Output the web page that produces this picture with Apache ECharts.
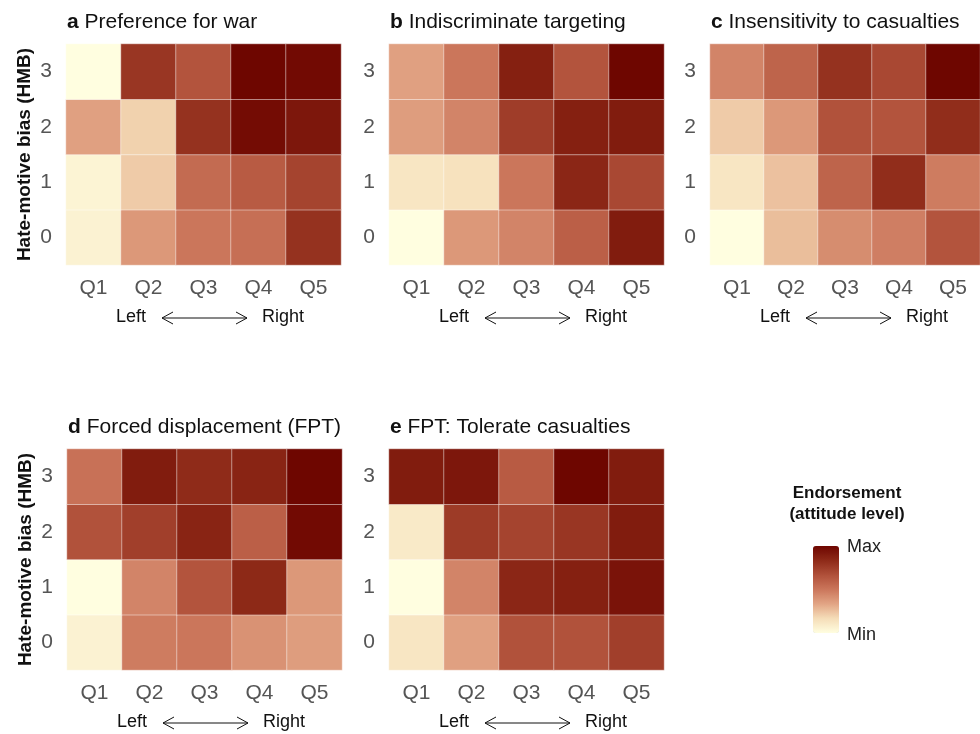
<!DOCTYPE html>
<html lang="en">

<head>
  <meta charset="UTF-8">
  <title>Endorsement heatmaps</title>
  <script src="https://cdn.jsdelivr.net/npm/echarts@6/dist/echarts.min.js"></script>
</head>

<body style="margin:0">
  <div id="main" style="width: 980px;height: 734px;"></div>
</body>
<script>
  var charts = echarts.init(document.getElementById('main'));

  var quintiles = ['Q1', 'Q2', 'Q3', 'Q4', 'Q5'];
  var hmbLevels = ['0', '1', '2', '3'];

  // rows = HMB 0..3, cols = Q1..Q5, scaled 0 (min) .. 1 (max) within each panel
  var prefWar = [
    [0.06, 0.38, 0.50, 0.53, 0.80],
    [0.05, 0.22, 0.55, 0.62, 0.72],
    [0.35, 0.20, 0.80, 0.97, 0.92],
    [0.00, 0.78, 0.65, 1.00, 0.98]
  ];
  var indiscriminate = [
    [0.00, 0.38, 0.45, 0.60, 0.90],
    [0.12, 0.14, 0.50, 0.85, 0.70],
    [0.36, 0.45, 0.75, 0.88, 0.90],
    [0.35, 0.50, 0.88, 0.65, 1.00]
  ];
  var insensitivity = [
    [0.00, 0.26, 0.42, 0.47, 0.65],
    [0.12, 0.25, 0.58, 0.82, 0.48],
    [0.22, 0.38, 0.66, 0.65, 0.82],
    [0.45, 0.58, 0.80, 0.70, 1.00]
  ];
  var forcedDisp = [
    [0.06, 0.48, 0.50, 0.40, 0.36],
    [0.00, 0.45, 0.65, 0.84, 0.38],
    [0.66, 0.74, 0.86, 0.60, 0.98],
    [0.52, 0.90, 0.83, 0.86, 1.00]
  ];
  var tolerateCas = [
    [0.12, 0.35, 0.66, 0.66, 0.74],
    [0.00, 0.45, 0.85, 0.88, 0.94],
    [0.10, 0.76, 0.72, 0.78, 0.90],
    [0.90, 0.92, 0.62, 1.00, 0.90]
  ];

  var panels = [
    { letter: 'a', name: 'Preference for war', data: prefWar, left: 66, top: 44 },
    { letter: 'b', name: 'Indiscriminate targeting', data: indiscriminate, left: 389, top: 44 },
    { letter: 'c', name: 'Insensitivity to casualties', data: insensitivity, left: 710, top: 44 },
    { letter: 'd', name: 'Forced displacement (FPT)', data: forcedDisp, left: 67, top: 449 },
    { letter: 'e', name: 'FPT: Tolerate casualties', data: tolerateCas, left: 389, top: 449 }
  ];
  var W = 275, H = 221;
  var font = 'Liberation Sans, Arial, sans-serif';

  var titles = [], grids = [], xAxes = [], yAxes = [], series = [], graphics = [];
  panels.forEach(function (p, i) {
    titles.push({
      text: '{b|' + p.letter + '} ' + p.name,
      left: p.left - 4,
      top: p.top - 37,
      textStyle: {
        fontFamily: font, fontSize: 21, fontWeight: 'normal', color: '#111',
        rich: { b: { fontFamily: font, fontSize: 21, fontWeight: 'bold', color: '#111' } }
      }
    });
    grids.push({ left: p.left, top: p.top, width: W, height: H });
    xAxes.push({
      type: 'category', gridIndex: i, data: quintiles,
      axisLine: { show: false }, axisTick: { show: false }, splitLine: { show: false },
      axisLabel: { fontFamily: font, fontSize: 21, color: '#555', margin: 13 }
    });
    yAxes.push({
      type: 'category', gridIndex: i, data: hmbLevels,
      axisLine: { show: false }, axisTick: { show: false }, splitLine: { show: false },
      axisLabel: { fontFamily: font, fontSize: 21, color: '#555', margin: 14 },
      name: (i === 0 || i === 3) ? 'Hate-motive bias (HMB)' : '',
      nameLocation: 'middle', nameGap: 32,
      nameTextStyle: { fontFamily: font, fontSize: 19, fontWeight: 'bold', color: '#111' }
    });
    var cells = [];
    p.data.forEach(function (row, y) {
      row.forEach(function (v, x) { cells.push([x, y, v]); });
    });
    series.push({
      type: 'heatmap', xAxisIndex: i, yAxisIndex: i, data: cells,
      itemStyle: { borderColor: 'rgba(255,255,255,0.45)', borderWidth: 1 },
      emphasis: { disabled: true }
    });

    // Left <--> Right annotation under the Q labels
    var ay = p.top + H + 53;
    var x1 = p.left + 96, x2 = p.left + 181;
    graphics.push(
      { type: 'text', left: p.left + 50, top: ay - 10, style: { text: 'Left', font: '18px ' + font, fill: '#111' } },
      { type: 'text', left: p.left + 196, top: ay - 10, style: { text: 'Right', font: '18px ' + font, fill: '#111' } },
      { type: 'line', shape: { x1: x1, y1: ay, x2: x2, y2: ay }, style: { stroke: '#111', lineWidth: 1 } },
      { type: 'polyline', shape: { points: [[x1 + 11, ay - 6], [x1, ay], [x1 + 11, ay + 6]] }, style: { stroke: '#111', lineWidth: 1, fill: null } },
      { type: 'polyline', shape: { points: [[x2 - 11, ay - 6], [x2, ay], [x2 - 11, ay + 6]] }, style: { stroke: '#111', lineWidth: 1, fill: null } }
    );
  });

  graphics.push(
    { type: 'text', x: 847, y: 485, style: { text: 'Endorsement', font: 'bold 17px ' + font, fill: '#111', align: 'center' } },
    { type: 'text', x: 847, y: 506, style: { text: '(attitude level)', font: 'bold 17px ' + font, fill: '#111', align: 'center' } },
    { type: 'text', left: 847, top: 538, style: { text: 'Max', font: '18px ' + font, fill: '#222' } },
    { type: 'text', left: 847, top: 626, style: { text: 'Min', font: '18px ' + font, fill: '#222' } }
  );

  const option = {
    backgroundColor: '#fff',
    title: titles,
    grid: grids,
    xAxis: xAxes,
    yAxis: yAxes,
    visualMap: {
      type: 'continuous',
      min: 0,
      max: 1,
      seriesIndex: [0, 1, 2, 3, 4],
      calculable: false,
      left: 798,
      top: 531,
      itemWidth: 26,
      itemHeight: 87,
      text: ['', ''],
      showLabel: false,
      inRange: {
        color: ['#FFFEE0', '#F5DDB8', '#E2A585', '#CB765B', '#B0503A', '#8E2A18', '#6E0600']
      }
    },
    graphic: graphics,
    series: series
  };
  charts.setOption(option);
</script>

</html>
